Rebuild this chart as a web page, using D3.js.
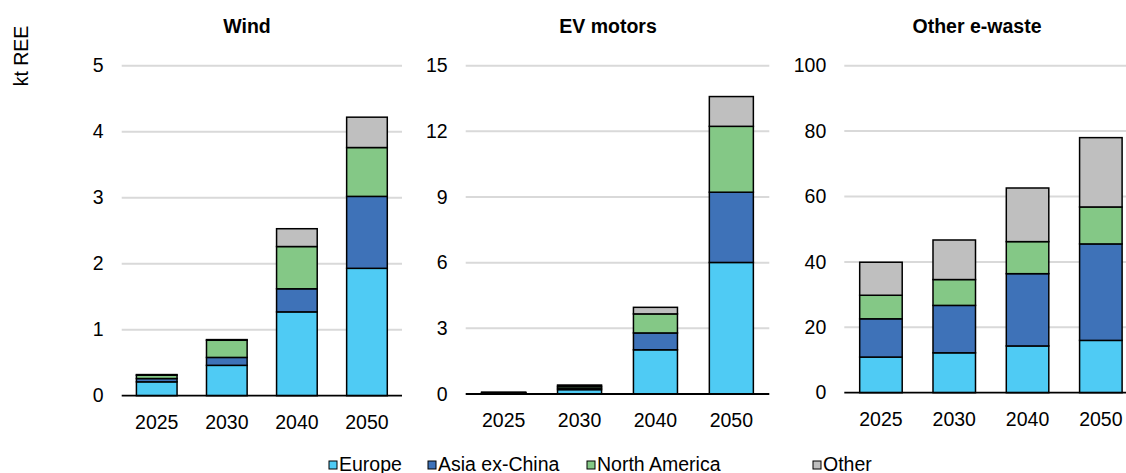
<!DOCTYPE html>
<html><head><meta charset="utf-8">
<script src="https://cdn.jsdelivr.net/npm/d3@7"></script>
<style>
html,body{margin:0;padding:0;background:#fff;}
text{font-family:"Liberation Sans",Arial,sans-serif;fill:#000;}
</style></head>
<body><svg id="chart" width="1126" height="473"></svg>
<script>
// ---- data ----
const years = ["2025", "2030", "2040", "2050"];
const seriesNames = ["Europe", "Asia ex-China", "North America", "Other"];
const panelTitles = ["Wind", "EV motors", "Other e-waste"];
const windEurope = [0.21, 0.46, 1.27, 1.93];
const windAsia = [0.05, 0.12, 0.35, 1.09];
const windNA = [0.05, 0.26, 0.64, 0.74];
const windOther = [0.01, 0.01, 0.27, 0.46];
const evEurope = [0.04, 0.20, 2.02, 6.01];
const evAsia = [0.02, 0.07, 0.77, 3.21];
const evNA = [0.01, 0.08, 0.87, 3.01];
const evOther = [0.01, 0.06, 0.30, 1.36];
const ewEurope = [10.9, 12.2, 14.3, 16.0];
const ewAsia = [11.7, 14.5, 22.1, 29.5];
const ewNA = [7.2, 7.9, 9.8, 11.3];
const ewOther = [10.1, 12.1, 16.4, 21.2];
const windTicks = [0, 1, 2, 3, 4, 5];
const evTicks = [0, 3, 6, 9, 12, 15];
const ewTicks = [0, 20, 40, 60, 80, 100];
const yLabel = "kt REE";

// ---- styles / layout ----
const colors = ["#4FCBF4", "#3E72B8", "#84C886", "#BFBFBF"];
const panels = [
  {title: panelTitles[0], series: [windEurope, windAsia, windNA, windOther], ticks: windTicks,
   x0: 121.7, x1: 402, y0: 395.7, y1: 65.7, titleX: 247},
  {title: panelTitles[1], series: [evEurope, evAsia, evNA, evOther], ticks: evTicks,
   x0: 465.7, x1: 769.3, y0: 394, y1: 65.7, titleX: 608},
  {title: panelTitles[2], series: [ewEurope, ewAsia, ewNA, ewOther], ticks: ewTicks,
   x0: 844.3, x1: 1137.5, y0: 392.7, y1: 65.7, titleX: 977}
];
const legendX = [329, 428, 587, 813];

const svg = d3.select("#chart");

panels.forEach(p => {
  const g = svg.append("g");
  const x = d3.scaleBand().domain(years).range([p.x0, p.x1]).paddingInner(0.42).paddingOuter(0.21);
  const y = d3.scaleLinear().domain([0, d3.max(p.ticks)]).range([p.y0, p.y1]);

  // gridlines
  g.selectAll("line.grid").data(p.ticks.filter(t => t > 0)).join("line")
    .attr("x1", p.x0).attr("x2", Math.min(p.x1, 1126))
    .attr("y1", d => y(d)).attr("y2", d => y(d))
    .attr("stroke", "#D9D9D9").attr("stroke-width", 2);

  // y axis labels via d3 axis
  const yAxis = d3.axisLeft(y).tickValues(p.ticks).tickFormat(d3.format("d")).tickSize(0).tickPadding(18);
  const ya = g.append("g").attr("transform", `translate(${p.x0},0)`).call(yAxis);
  ya.select(".domain").remove();
  ya.selectAll("text").style("font-size", "19.5px").style("font-family", "Liberation Sans, Arial, sans-serif").attr("fill", "#000");

  // stacked bars
  const rows = years.map((yr, i) => {
    const o = {year: yr};
    seriesNames.forEach((s, k) => o[s] = p.series[k][i]);
    return o;
  });
  const stacked = d3.stack().keys(seriesNames)(rows);
  stacked.forEach((layer, k) => {
    g.append("g").selectAll("rect").data(layer).join("rect")
      .attr("x", d => x(d.data.year))
      .attr("width", x.bandwidth())
      .attr("y", d => y(d[1]))
      .attr("height", d => Math.max(0, y(d[0]) - y(d[1])))
      .attr("fill", colors[k])
      .attr("stroke", "#000").attr("stroke-width", 1.5);
  });

  // x axis
  const xAxis = d3.axisBottom(x).tickSize(0).tickPadding(19);
  const xa = g.append("g").attr("transform", `translate(0,${p.y0})`).call(xAxis);
  xa.select(".domain").remove();
  xa.selectAll("text").style("font-size", "19.5px").style("font-family", "Liberation Sans, Arial, sans-serif").attr("fill", "#000");
  g.append("line").attr("x1", p.x0).attr("x2", Math.min(p.x1, 1126))
    .attr("y1", p.y0).attr("y2", p.y0).attr("stroke", "#000").attr("stroke-width", 1.8);

  // title
  g.append("text").attr("x", p.titleX).attr("y", 33).attr("text-anchor", "middle")
    .style("font-size", "19.5px").style("font-weight", "bold").text(p.title);
});

// y label
svg.append("text").attr("transform", "translate(28,56) rotate(-90)")
  .attr("text-anchor", "middle").style("font-size", "19.5px").text(yLabel);

// legend
const lg = svg.append("g");
seriesNames.forEach((s, k) => {
  lg.append("rect").attr("x", legendX[k]).attr("y", 461).attr("width", 8).attr("height", 8)
    .attr("fill", colors[k]).attr("stroke", "#000").attr("stroke-width", 1);
  lg.append("text").attr("x", legendX[k] + 10).attr("y", 470.5).style("font-size", "19.5px").text(s);
});
</script></body></html>
